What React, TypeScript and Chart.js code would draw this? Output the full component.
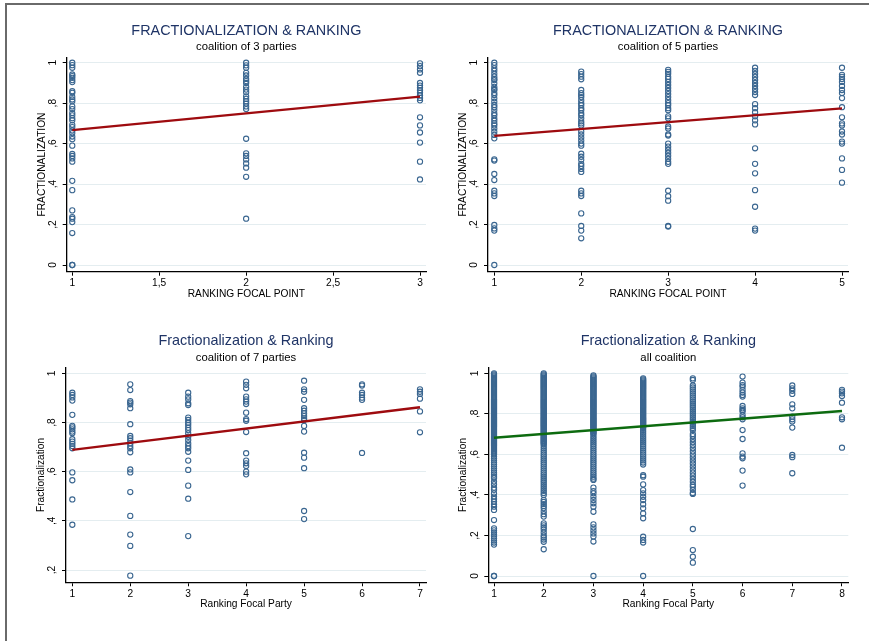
import { useEffect, useRef } from 'react';
import { Chart, registerables } from 'chart.js';

Chart.register(...registerables);
Chart.defaults.font.family = "'Liberation Sans', Arial, Helvetica, sans-serif";

// ---------- coalition of 3 parties ----------
const p1Ranks = [1, 2, 3];
const p1Rank1 = [1, .988, .975, .942, .934, .925, .914, .904, .859, .851, .831, .818, .809, .784, .771, .751, .74, .726, .715, .693, .682, .665, .652, .635, .622, .59, .549, .539, .527, .511, .416, .37, .27, .237, .229, .212, .158, 0, 0];
const p1Rank2 = [1, .987, .975, .95, .937, .92, .909, .9, .881, .867, .854, .834, .821, .809, .798, .784, .771, .624, .552, .539, .522, .502, .481, .436, .229];
const p1Rank3 = [.997, .983, .967, .95, .9, .887, .876, .864, .851, .838, .826, .814, .73, .69, .655, .605, .511, .423];
const p1FitX = [1, 3];
const p1Fit = [.667, .832];
const p1XTicks = [1, 1.5, 2, 2.5, 3];
const p1XLabels = ['1', '1,5', '2', '2,5', '3'];

// ---------- coalition of 5 parties ----------
const p2Ranks = [1, 2, 3, 4, 5];
const p2Rank1 = [1, .988, .972, .96, .945, .931, .92, .914, .898, .881, .87, .865, .85, .84, .824, .807, .791, .78, .766, .75, .74, .725, .713, .7, .69, .675, .659, .643, .626, .522, .516, .45, .42, .367, .354, .341, .198, .181, .17, 0];
const p2Rank2 = [.956, .944, .931, .918, .865, .85, .84, .83, .815, .8, .79, .775, .765, .75, .74, .725, .71, .7, .69, .66, .645, .63, .615, .6, .59, .55, .535, .52, .5, .49, .475, .46, .367, .354, .341, .255, .193, .17, .132];
const p2Rank3 = [.965, .955, .945, .93, .92, .905, .89, .875, .86, .845, .83, .815, .8, .79, .775, .765, .735, .725, .685, .675, .645, .64, .6, .585, .57, .555, .54, .525, .51, .5, .367, .34, .318, .193, .19];
const p2Rank4 = [.975, .96, .945, .93, .915, .9, .885, .87, .855, .84, .795, .775, .755, .735, .715, .695, .577, .5, .453, .37, .288, .18, .17];
const p2Rank5 = [.975, .94, .93, .92, .905, .885, .865, .85, .825, .78, .73, .7, .69, .66, .645, .61, .6, .527, .47, .407];
const p2FitX = [1, 5];
const p2Fit = [.638, .774];
const p2XTicks = [1, 2, 3, 4, 5];
const p2XLabels = ['1', '2', '3', '4', '5'];

// ---------- coalition of 7 parties ----------
const p3Ranks = [1, 2, 3, 4, 5, 6, 7];
const p3Rank1 = [.921, .912, .902, .889, .831, .786, .78, .772, .763, .756, .732, .722, .713, .704, .695, .597, .565, .487, .384];
const p3Rank2 = [.955, .932, .887, .881, .874, .858, .793, .745, .736, .726, .715, .704, .695, .679, .609, .597, .517, .42, .344, .298, .177];
const p3Rank3 = [.921, .905, .894, .878, .871, .82, .81, .799, .79, .779, .769, .756, .742, .729, .715, .704, .695, .681, .645, .607, .543, .49, .338];
const p3Rank4 = [.966, .953, .939, .905, .894, .885, .875, .84, .814, .807, .761, .675, .645, .634, .623, .6, .589];
const p3Rank5 = [.97, .935, .925, .892, .858, .848, .837, .826, .817, .81, .786, .763, .677, .657, .614, .44, .407];
const p3Rank6 = [.955, .95, .921, .912, .901, .892, .676];
const p3Rank7 = [.935, .925, .916, .897, .845, .76];
const p3FitX = [1, 7];
const p3Fit = [.689, .862];
const p3XTicks = [1, 2, 3, 4, 5, 6, 7];
const p3XLabels = ['1', '2', '3', '4', '5', '6', '7'];

// ---------- all coalitions ----------
const p4Ranks = [1, 2, 3, 4, 5, 6, 7, 8];
const p4Rank1 = [1, .995, .99, .985, .98, .975, .97, .965, .96, .955, .95, .945, .94, .935, .93, .925, .92, .915, .91, .905, .9, .895, .89, .885, .88, .875, .87, .865, .86, .855, .85, .845, .84, .835, .83, .825, .82, .815, .81, .805, .8, .795, .79, .785, .78, .775, .77, .765, .76, .755, .75, .745, .74, .735, .73, .725, .72, .715, .71, .705, .7, .695, .69, .685, .68, .675, .67, .665, .66, .655, .65, .645, .64, .635, .63, .625, .62, .615, .61, .605, .6, .59, .58, .57, .56, .55, .54, .53, .52, .51, .5, .49,
  .483, .466, .453, .436, .425, .408, .392, .38, .367, .354, .342, .326, .276, .235, .225, .215, .205, .195, .185, .175, .165, .155, 0, 0];
const p4Rank2 = [1, .995, .99, .985, .98, .975, .97, .965, .96, .955, .95, .945, .94, .935, .93, .925, .92, .915, .91, .905, .9, .895, .89, .885, .88, .875, .87, .865, .86, .855, .85, .845, .84, .835, .83, .825, .82, .815, .81, .805, .8, .795, .79, .785, .78, .775, .77, .765, .76, .755, .75, .745, .74, .735, .73, .725, .72, .715, .71, .705, .7, .695, .69, .685, .68, .675, .67, .665, .66, .655, .65, .64, .63, .62, .61, .6, .59, .58, .57, .56, .55, .54, .53, .52, .51, .5, .49, .48, .47, .46, .45, .44, .43, .42, .41, .4,
  .375, .365, .355, .345, .335, .32, .305, .293, .26, .25, .24, .23, .215, .2, .19, .18, .169, .132];
const p4Rank3 = [.99, .985, .98, .975, .97, .965, .96, .955, .95, .945, .94, .935, .93, .925, .92, .915, .91, .905, .9, .895, .89, .885, .88, .875, .87, .865, .86, .855, .85, .845, .84, .835, .83, .825, .82, .815, .81, .805, .8, .795, .79, .785, .78, .775, .77, .765, .76, .755, .75, .745, .74, .735, .73, .725, .72, .715, .71, .705, .7, .69, .68, .67, .66, .65, .64, .63, .62, .61, .6, .59, .58, .57, .56, .55, .54, .53, .52, .51, .5, .49, .48, .474,
  .436, .419, .408, .391, .375, .359, .342, .317, .255, .24, .225, .21, .195, .17, 0];
const p4Rank4 = [.975, .97, .965, .96, .955, .95, .945, .94, .935, .93, .925, .92, .915, .91, .905, .9, .895, .89, .885, .88, .875, .87, .865, .86, .855, .85, .845, .84, .835, .83, .825, .82, .815, .81, .805, .8, .795, .79, .785, .78, .775, .77, .765, .76, .755, .75, .745, .74, .735, .73, .72, .71, .7, .69, .68, .67, .66, .65, .64, .63, .62, .61, .6, .59, .58, .57, .56, .55,
  .497, .49, .452, .424, .408, .391, .375, .354, .334, .309, .285, .194, .178, .165, 0];
const p4Rank5 = [.975, .967, .94, .93, .92, .91, .9, .89, .88, .87, .86, .85, .84, .83, .82, .81, .8, .79, .78, .77, .76, .75, .74, .73, .72,
  .7, .69, .675, .66, .645, .63, .615, .6, .585, .57, .555, .54, .525, .51, .495, .48, .465, .45, .44, .425, .41, .405, .232, .128, .095, .066];
const p4Rank6 = [.984, .954, .942, .934, .918, .905, .893, .885, .839, .827, .819, .811, .794, .783, .773, .72, .676, .605, .589, .581, .52, .446];
const p4Rank7 = [.94, .926, .914, .898, .847, .827, .786, .773, .762, .732, .597, .586, .507];
const p4Rank8 = [.918, .91, .901, .888, .855, .783, .773, .633];
const p4FitX = [1, 8];
const p4Fit = [.682, .814];
const p4XTicks = [1, 2, 3, 4, 5, 6, 7, 8];
const p4XLabels = ['1', '2', '3', '4', '5', '6', '7', '8'];

// ---------- shared y ticks ----------
const yTicksFull = [0, .2, .4, .6, .8, 1];
const yLabelsFull = ['0', ',2', ',4', ',6', ',8', '1'];
const yTicksHigh = [.2, .4, .6, .8, 1];
const yLabelsHigh = [',2', ',4', ',6', ',8', '1'];

// ---------- styling ----------
const MARKER = '#3a6690';
const RED = '#9e0b0f';
const GREEN = '#0d6b10';
const GRID = '#e4edf0';
const TITLE_COLOR = '#1f3466';
const TITLE_SIZE = 14.4;
const SUB_SIZE = 11.3;
const AXIS_SIZE = 10.2;
const TICK_SIZE = 10.2;
const X_TITLE_GAP = 22.2; // axis line to x-title centre
const Y_TITLE_GAP = 24.7; // axis line to y-title centre

type Area = { left: number; right: number; top: number; bottom: number };
type PanelSpec = {
  box: { left: number; top: number; width: number; height: number };
  area: Area;
  titleY: number;
  subY: number;
  title: string;
  subtitle: string;
  xTitle: string;
  yTitle: string;
  ranks: number[];
  columns: number[][];
  fitX: number[];
  fit: number[];
  fitColor: string;
  xMin: number;
  xMax: number;
  yMin: number;
  yMax: number;
  xTicks: number[];
  xLabels: string[];
  yTicks: number[];
  yLabels: string[];
};

function buildConfig(s: PanelSpec): any {
  const points = s.columns.flatMap((col, i) => col.map((v) => ({ x: s.ranks[i], y: v })));
  const fitPts = s.fitX.map((x, i) => ({ x, y: s.fit[i] }));
  const tLH = TITLE_SIZE * 1.2;
  const sLH = SUB_SIZE * 1.2;
  const aLH = AXIS_SIZE * 1.2;
  const tPadTop = s.titleY - tLH / 2;
  const tH = tPadTop + tLH;
  const sPadTop = s.subY - tH - sLH / 2;
  const sPadBottom = s.area.top - tH - sPadTop - sLH;
  const xScaleH = s.box.height - s.area.bottom;
  const xTitlePadBottom = xScaleH - X_TITLE_GAP - aLH / 2;
  const yTitlePadTop = s.area.left - Y_TITLE_GAP - aLH / 2;

  return {
    type: 'scatter',
    data: {
      datasets: [
        {
          data: fitPts,
          showLine: true,
          pointRadius: 0,
          borderColor: s.fitColor,
          borderWidth: 2.3,
          fill: false,
          order: 0,
        },
        {
          data: points,
          pointStyle: 'circle',
          pointRadius: 2.6,
          pointBorderWidth: 1.1,
          borderColor: MARKER,
          backgroundColor: 'rgba(0,0,0,0)',
          order: 1,
        },
      ],
    },
    options: {
      responsive: false,
      animation: false,
      events: [],
      layout: { padding: { left: 0, top: 0, right: s.box.width - s.area.right, bottom: 0 } },
      plugins: {
        legend: { display: false },
        tooltip: { enabled: false },
        title: {
          display: true,
          text: s.title,
          color: TITLE_COLOR,
          fullSize: false,
          font: { size: TITLE_SIZE, weight: 'normal', lineHeight: 1.2 },
          padding: { top: tPadTop, bottom: 0 },
        },
        subtitle: {
          display: true,
          text: s.subtitle,
          color: '#000',
          fullSize: false,
          font: { size: SUB_SIZE, weight: 'normal', lineHeight: 1.2 },
          padding: { top: sPadTop, bottom: sPadBottom },
        },
      },
      scales: {
        x: {
          type: 'linear',
          min: s.xMin,
          max: s.xMax,
          afterBuildTicks: (sc: any) => {
            sc.ticks = s.xTicks.map((v) => ({ value: v }));
          },
          afterFit: (sc: any) => {
            sc.height = xScaleH;
          },
          ticks: {
            autoSkip: false,
            maxRotation: 0,
            padding: 1.3,
            color: '#000',
            font: { size: TICK_SIZE },
            callback: (_v: any, i: number) => s.xLabels[i],
          },
          grid: { drawOnChartArea: false, drawTicks: true, tickLength: 4, tickColor: '#000', tickWidth: 1 },
          border: { display: true, color: '#000', width: 1.3 },
          title: {
            display: true,
            text: s.xTitle,
            color: '#000',
            font: { size: AXIS_SIZE, lineHeight: 1.2 },
            padding: { top: 0, bottom: xTitlePadBottom },
          },
        },
        y: {
          type: 'linear',
          min: s.yMin,
          max: s.yMax,
          afterBuildTicks: (sc: any) => {
            sc.ticks = s.yTicks.map((v) => ({ value: v }));
          },
          afterFit: (sc: any) => {
            sc.width = s.area.left;
          },
          ticks: {
            autoSkip: false,
            minRotation: 90,
            maxRotation: 90,
            crossAlign: 'center',
            padding: 5.2,
            color: '#000',
            font: { size: TICK_SIZE },
            callback: (_v: any, i: number) => s.yLabels[i],
          },
          grid: { color: GRID, lineWidth: 1, drawTicks: true, tickLength: 4, tickColor: '#000', tickWidth: 1 },
          border: { display: true, color: '#000', width: 1.3 },
          title: {
            display: true,
            text: s.yTitle,
            color: '#000',
            font: { size: AXIS_SIZE, lineHeight: 1.2 },
            padding: { top: yTitlePadTop, bottom: 0 },
          },
        },
      },
    },
  };
}

const panels: PanelSpec[] = [
  {
    box: { left: 0, top: 0, width: 434, height: 318 },
    area: { left: 66.7, right: 426, top: 57.3, bottom: 271.7 },
    titleY: 30.8,
    subY: 46.5,
    title: 'FRACTIONALIZATION & RANKING',
    subtitle: 'coalition of 3 parties',
    xTitle: 'RANKING FOCAL POINT',
    yTitle: 'FRACTIONALIZATION',
    ranks: p1Ranks,
    columns: [p1Rank1, p1Rank2, p1Rank3],
    fitX: p1FitX,
    fit: p1Fit,
    fitColor: RED,
    xMin: 0.968,
    xMax: 3.0345,
    yMin: -0.0331,
    yMax: 1.0267,
    xTicks: p1XTicks,
    xLabels: p1XLabels,
    yTicks: yTicksFull,
    yLabels: yLabelsFull,
  },
  {
    box: { left: 434, top: 0, width: 435, height: 318 },
    area: { left: 54, right: 414, top: 57.3, bottom: 271.7 },
    titleY: 30.8,
    subY: 46.5,
    title: 'FRACTIONALIZATION & RANKING',
    subtitle: 'coalition of 5 parties',
    xTitle: 'RANKING FOCAL POINT',
    yTitle: 'FRACTIONALIZATION',
    ranks: p2Ranks,
    columns: [p2Rank1, p2Rank2, p2Rank3, p2Rank4, p2Rank5],
    fitX: p2FitX,
    fit: p2Fit,
    fitColor: RED,
    xMin: 0.9275,
    xMax: 5.069,
    yMin: -0.0331,
    yMax: 1.0267,
    xTicks: p2XTicks,
    xLabels: p2XLabels,
    yTicks: yTicksFull,
    yLabels: yLabelsFull,
  },
  {
    box: { left: 0, top: 318, width: 434, height: 323 },
    area: { left: 66, right: 426, top: 49.7, bottom: 264.3 },
    titleY: 23.5,
    subY: 39.7,
    title: 'Fractionalization & Ranking',
    subtitle: 'coalition of 7 parties',
    xTitle: 'Ranking Focal Party',
    yTitle: 'Fractionalization',
    ranks: p3Ranks,
    columns: [p3Rank1, p3Rank2, p3Rank3, p3Rank4, p3Rank5, p3Rank6, p3Rank7],
    fitX: p3FitX,
    fit: p3Fit,
    fitColor: RED,
    xMin: 0.891,
    xMax: 7.104,
    yMin: 0.15,
    yMax: 1.0228,
    xTicks: p3XTicks,
    xLabels: p3XLabels,
    yTicks: yTicksHigh,
    yLabels: yLabelsHigh,
  },
  {
    box: { left: 434, top: 318, width: 435, height: 323 },
    area: { left: 54.3, right: 414.3, top: 49.7, bottom: 264.3 },
    titleY: 23.5,
    subY: 39.7,
    title: 'Fractionalization & Ranking',
    subtitle: 'all coalition',
    xTitle: 'Ranking Focal Party',
    yTitle: 'Fractionalization',
    ranks: p4Ranks,
    columns: [p4Rank1, p4Rank2, p4Rank3, p4Rank4, p4Rank5, p4Rank6, p4Rank7, p4Rank8],
    fitX: p4FitX,
    fit: p4Fit,
    fitColor: GREEN,
    xMin: 0.885,
    xMax: 8.127,
    yMin: -0.031,
    yMax: 1.0276,
    xTicks: p4XTicks,
    xLabels: p4XLabels,
    yTicks: yTicksFull,
    yLabels: yLabelsFull,
  },
];

function Panel({ spec }: { spec: PanelSpec }) {
  const ref = useRef<HTMLCanvasElement | null>(null);
  useEffect(() => {
    if (!ref.current) return;
    const chart = new Chart(ref.current, buildConfig(spec));
    return () => chart.destroy();
  }, [spec]);
  return (
    <canvas
      ref={ref}
      width={spec.box.width}
      height={spec.box.height}
      style={{
        position: 'absolute',
        left: spec.box.left,
        top: spec.box.top,
        width: spec.box.width,
        height: spec.box.height,
      }}
    />
  );
}

export default function App() {
  return (
    <div
      style={{
        position: 'absolute',
        left: 0,
        top: 0,
        width: 869,
        height: 641,
        background: '#ffffff',
        overflow: 'hidden',
      }}
    >
      <div
        style={{
          position: 'absolute',
          left: 5,
          top: 3,
          right: 0,
          bottom: 0,
          borderTop: '2px solid #6a6a6a',
          borderLeft: '2px solid #6a6a6a',
        }}
      />
      {panels.map((p, i) => (
        <Panel key={i} spec={p} />
      ))}
    </div>
  );
}
